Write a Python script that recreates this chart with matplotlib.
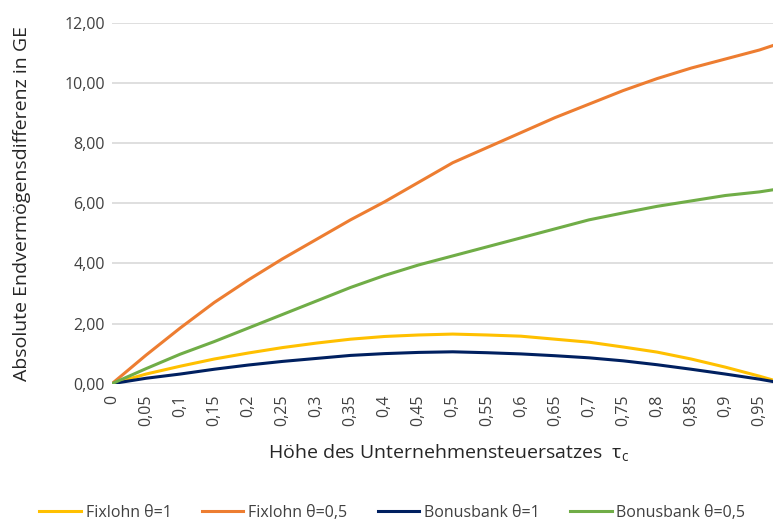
import matplotlib
matplotlib.use("Agg")
import matplotlib.pyplot as plt
from matplotlib.ticker import FuncFormatter

plt.rcParams['font.family'] = ['Open Sans', 'DejaVu Sans']

# tax rate tau_c (read at tick positions plus the last point)
tau = [0, 0.05, 0.1, 0.15, 0.2, 0.25, 0.3, 0.35, 0.4, 0.45, 0.5,
       0.55, 0.6, 0.65, 0.7, 0.75, 0.8, 0.85, 0.9, 0.95, 0.97]

fix_1 = [0, 0.32, 0.58, 0.82, 1.02, 1.20, 1.35, 1.48, 1.57, 1.62, 1.65,
         1.62, 1.58, 1.48, 1.38, 1.22, 1.05, 0.82, 0.55, 0.25, 0.12]
fix_05 = [0, 0.95, 1.85, 2.70, 3.45, 4.15, 4.80, 5.45, 6.05, 6.70, 7.35,
          7.85, 8.35, 8.85, 9.30, 9.75, 10.15, 10.50, 10.80, 11.10, 11.25]
bonus_1 = [0, 0.18, 0.32, 0.48, 0.62, 0.74, 0.84, 0.94, 1.00, 1.04, 1.06,
           1.03, 0.99, 0.93, 0.86, 0.76, 0.63, 0.48, 0.32, 0.15, 0.07]
bonus_05 = [0, 0.50, 0.98, 1.40, 1.85, 2.30, 2.75, 3.20, 3.60, 3.95, 4.25,
            4.55, 4.85, 5.15, 5.45, 5.68, 5.90, 6.08, 6.26, 6.38, 6.45]

xticks = [0, 0.05, 0.1, 0.15, 0.2, 0.25, 0.3, 0.35, 0.4, 0.45, 0.5,
          0.55, 0.6, 0.65, 0.7, 0.75, 0.8, 0.85, 0.9, 0.95]
xticklabels = ['0', '0,05', '0,1', '0,15', '0,2', '0,25', '0,3', '0,35',
               '0,4', '0,45', '0,5', '0,55', '0,6', '0,65', '0,7', '0,75',
               '0,8', '0,85', '0,9', '0,95']
yticks = [0, 2, 4, 6, 8, 10, 12]

txt = '#404040'

fig = plt.figure(figsize=(7.74, 5.22), dpi=100)
ax = fig.add_axes([0.1447, 0.265, 0.854, 0.691])

ax.plot(tau, fix_1, color='#FFC000', lw=2.2, label='Fixlohn θ=1')
ax.plot(tau, fix_05, color='#ED7D31', lw=2.2, label='Fixlohn θ=0,5')
ax.plot(tau, bonus_1, color='#002060', lw=2.2, label='Bonusbank θ=1')
ax.plot(tau, bonus_05, color='#70AD47', lw=2.2, label='Bonusbank θ=0,5')

ax.set_xlim(0, 0.97)
ax.set_ylim(0, 12)
ax.set_yticks(yticks)
ax.yaxis.set_major_formatter(FuncFormatter(lambda v, p: f"{v:.2f}".replace('.', ',')))
ax.set_xticks(xticks)
ax.set_xticklabels(xticklabels, rotation=90)
ax.tick_params(axis='both', length=0, labelsize=11.5, colors=txt)
ax.tick_params(axis='x', pad=8)
ax.tick_params(axis='y', pad=5)

ax.grid(axis='y', color='#D9D9D9', lw=1.2)
ax.set_axisbelow(True)
for s in ax.spines.values():
    s.set_visible(False)

ax.set_ylabel('Absolute Endvermögensdifferenz in GE', fontsize=14, color='#262626')
ax.yaxis.set_label_coords(-0.122, 0.5)
ax.set_xlabel('Höhe des Unternehmensteuersatzes  τ$_\\mathregular{c}$',
              fontsize=14, color='#262626')
ax.xaxis.set_label_coords(0.51, -0.165)

fig.legend(loc='lower center', ncol=4, frameon=False, fontsize=11.5,
           bbox_to_anchor=(0.507, -0.025), handlelength=2.6, columnspacing=1.9,
           handletextpad=0.3, labelcolor=txt)

fig.savefig('out.png', dpi=100, facecolor='white')
